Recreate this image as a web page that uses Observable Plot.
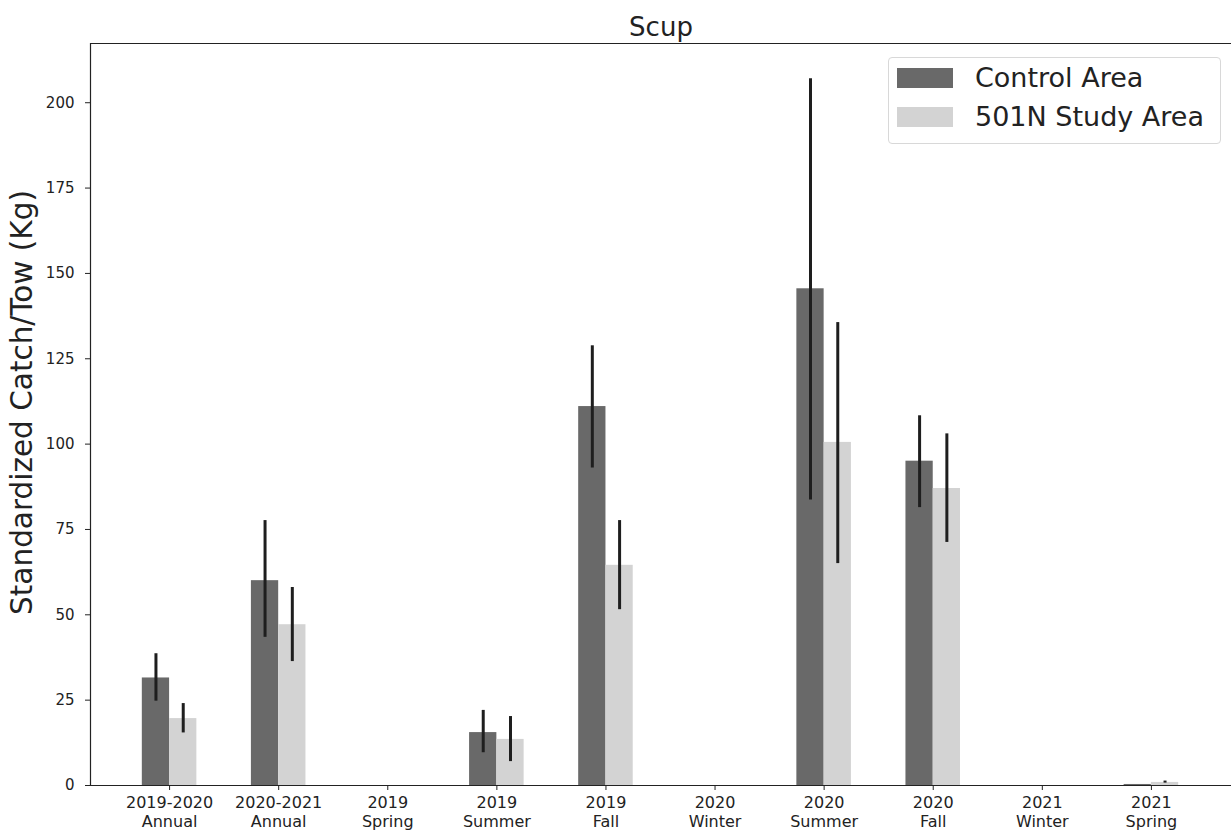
<!DOCTYPE html>
<html>
<head>
<meta charset="utf-8">
<script src="https://cdn.jsdelivr.net/npm/d3@7"></script>
<script src="https://cdn.jsdelivr.net/npm/@observablehq/plot@0.6"></script>
<style>
  html, body { margin: 0; padding: 0; background: #fff; }
  #wrap { position: relative; width: 1231px; height: 838px; font-family: "DejaVu Sans", sans-serif; }
  #legend { position: absolute; left: 888px; top: 57px; width: 333px; height: 87px; border: 1px solid #d8d8d8; border-radius: 4px; background: rgba(255,255,255,0.85); box-sizing: border-box; }
  .item { position: absolute; left: 8px; display: flex; align-items: center; font-size: 27px; line-height: 30px; height: 30px; color: #222; white-space: nowrap; }
  .sw { width: 56px; height: 20px; margin-right: 22px; }
</style>
</head>
<body>
<div id="wrap">
  <div id="chart"></div>
  <div id="legend"></div>
</div>
<script>
const line1 = ["2019-2020", "2020-2021", "2019", "2019", "2019", "2020", "2020", "2020", "2021", "2021"];
const line2 = ["Annual", "Annual", "Spring", "Summer", "Fall", "Winter", "Summer", "Fall", "Winter", "Spring"];
const yTicks = [0, 25, 50, 75, 100, 125, 150, 175, 200];
const seriesNames = ["Control Area", "501N Study Area"];
const seriesColors = ["#696969", "#d3d3d3"];
const controlMean = [31.5, 60, 0, 15.5, 111, 0, 145.5, 95, 0, 0.3];
const controlLow  = [24.7, 43.4, 0, 9.6, 93, 0, 83.6, 81.4, 0, 0.3];
const controlHigh = [38.6, 77.6, 0, 22, 128.8, 0, 207, 108.3, 0, 0.3];
const studyMean = [19.6, 47.1, 0, 13.5, 64.5, 0, 100.5, 87, 0, 0.9];
const studyLow  = [15.4, 36.3, 0, 7, 51.5, 0, 65, 71.2, 0, 0.7];
const studyHigh = [24, 58, 0, 20.2, 77.6, 0, 135.6, 103, 0, 1.3];

const rows = [];
line1.forEach((_, i) => {
  rows.push({i, s: 0, x1: i - 0.25, x2: i, xc: i - 0.125, v: controlMean[i], lo: controlLow[i], hi: controlHigh[i]});
  rows.push({i, s: 1, x1: i, x2: i + 0.25, xc: i + 0.125, v: studyMean[i], lo: studyLow[i], hi: studyHigh[i]});
});
const errRows = rows.filter(d => d.hi > d.lo);
const idx = line1.map((_, i) => i);
const xMin = -0.725, xMax = 9.725, yMax = 217.35;
const pxPerX = 1140 / (xMax - xMin);

const chart = Plot.plot({
  width: 1231,
  height: 838,
  marginLeft: 90,
  marginRight: 0,
  marginTop: 43,
  marginBottom: 53,
  style: {fontFamily: "DejaVu Sans, sans-serif", fontSize: "15px", color: "#222", background: "#fff"},
  x: {type: "linear", domain: [xMin, xMax], range: [90, 1230]},
  y: {domain: [0, yMax]},
  marks: [
    Plot.rectY(rows, {x1: "x1", x2: "x2", y1: 0, y2: "v", fill: d => seriesColors[d.s], insetLeft: 0, insetRight: 0}),
    Plot.ruleX(errRows, {x: "xc", y1: "lo", y2: "hi", stroke: "#1e1e1e", strokeWidth: 3}),
    Plot.ruleY([yMax], {stroke: "#222", strokeWidth: 1.2}),
    Plot.ruleY([0], {stroke: "#222", strokeWidth: 1.2}),
    Plot.ruleX([xMin], {stroke: "#222", strokeWidth: 1.2}),
    Plot.axisY({ticks: yTicks, tickSize: 5, tickFormat: () => "", label: null, stroke: "#222"}),
    Plot.text(yTicks, {y: d => d, frameAnchor: "left", dx: -16, textAnchor: "end", text: d => String(d), fontSize: 15, fill: "#222"}),
    Plot.axisX({ticks: idx, tickSize: 5, tickFormat: () => "", label: null, stroke: "#222"}),
    Plot.text(idx, {x: d => d, frameAnchor: "bottom", dy: 8, lineAnchor: "top", lineHeight: 1.24, text: i => line1[i] + "\n" + line2[i], fontSize: 16, fill: "#222"}),
    Plot.text([{t: "Standardized Catch/Tow (Kg)", x: xMin - 68 / pxPerX, y: yMax * (785 - 402) / 742}], {x: "x", y: "y", text: "t", rotate: -90, fontSize: 29.5, fill: "#222"}),
    Plot.text(["Scup"], {frameAnchor: "top", dy: -26, fontSize: 26, fill: "#222"})
  ]
});
document.getElementById("chart").appendChild(chart);

const legend = document.getElementById("legend");
seriesNames.forEach((name, k) => {
  const item = document.createElement("div");
  item.className = "item";
  item.style.top = (k === 0 ? 5 : 44) + "px";
  const sw = document.createElement("div");
  sw.className = "sw";
  sw.style.background = seriesColors[k];
  item.appendChild(sw);
  const t = document.createElement("span");
  t.textContent = name;
  item.appendChild(t);
  legend.appendChild(item);
});
</script>
</body>
</html>
